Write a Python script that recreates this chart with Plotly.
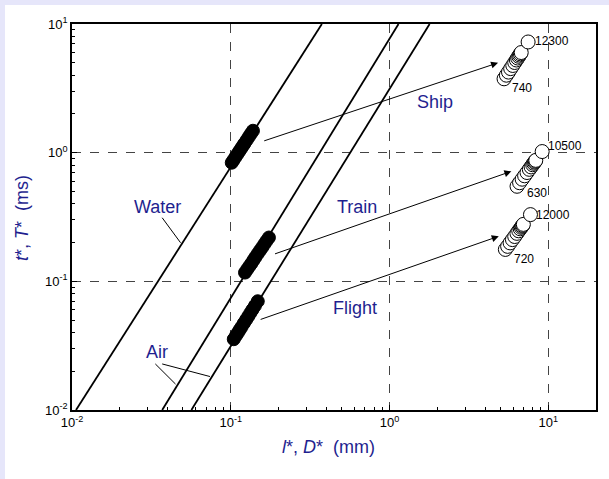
import numpy as np
import plotly.graph_objects as go

# ---------------- data ----------------
# Scaling lines (x = l*, D* in mm ; y = t*, T* in ms)
water_line_x = [0.0106, 0.375]
water_line_y = [0.01, 10.0]
air1_line_x = [0.037, 1.14]
air1_line_y = [0.01, 10.0]
air2_line_x = [0.0565, 1.79]
air2_line_y = [0.01, 10.0]

# Black (filled) clusters on the lines
water_blob_x = [0.1015, 0.104, 0.107, 0.110, 0.113, 0.116, 0.119, 0.122, 0.126, 0.130, 0.134, 0.138]
water_blob_y = [0.836, 0.875, 0.923, 0.972, 1.022, 1.073, 1.126, 1.179, 1.252, 1.328, 1.405, 1.48]
train_blob_x = [0.123, 0.127, 0.131, 0.135, 0.139, 0.143, 0.148, 0.153, 0.158, 0.163, 0.168, 0.174]
train_blob_y = [0.117, 0.124, 0.131, 0.138, 0.146, 0.154, 0.164, 0.174, 0.184, 0.195, 0.206, 0.219]
flight_blob_x = [0.1045, 0.108, 0.111, 0.114, 0.117, 0.121, 0.125, 0.129, 0.133, 0.137, 0.142, 0.148]
flight_blob_y = [0.0355, 0.0379, 0.0399, 0.0421, 0.0442, 0.0473, 0.0503, 0.0535, 0.0568, 0.0602, 0.0645, 0.070]

# Open-circle clusters (Ship / Train / Flight)
ship_x = [5.27, 5.45, 5.62, 5.80, 5.98, 6.15, 6.30, 6.42, 6.52, 6.60, 6.68, 6.76, 7.47]
ship_y = [3.75, 4.00, 4.23, 4.50, 4.76, 5.02, 5.25, 5.44, 5.61, 5.74, 5.87, 6.00, 7.25]
train_x = [6.36, 6.60, 6.85, 7.10, 7.35, 7.60, 7.80, 7.98, 8.10, 8.20, 8.28, 8.35, 9.16]
train_y = [0.548, 0.584, 0.622, 0.661, 0.701, 0.742, 0.775, 0.806, 0.827, 0.844, 0.858, 0.871, 1.02]
flight_x = [5.37, 5.55, 5.75, 5.95, 6.15, 6.35, 6.52, 6.66, 6.76, 6.84, 6.91, 6.97, 7.73]
flight_y = [0.177, 0.187, 0.199, 0.211, 0.223, 0.236, 0.247, 0.256, 0.263, 0.268, 0.272, 0.277, 0.330]

# Range labels of the clusters: (text, x, y)
range_labels = [("12300", 8.03, 7.43), ("740", 5.73, 3.17),
                ("10500", 9.62, 1.13), ("630", 7.12, 0.487),
                ("12000", 8.16, 0.330), ("720", 5.94, 0.148)]

# Arrows: (tail x, tail y, head x, head y)
arrows = [(0.159, 1.225, 4.83, 4.99),
          (0.186, 0.162, 5.86, 0.716),
          (0.151, 0.0501, 4.88, 0.224)]

# Named labels: (text, x, y)
names = [("Ship", 1.93, 2.48), ("Water", 0.0345, 0.375), ("Train", 0.626, 0.381),
         ("Flight", 0.61, 0.0618), ("Air", 0.0343, 0.028)]

# Leader lines: ((x0, y0), (x1, y1))
leaders = [((0.037, 0.312), (0.0483, 0.1995)),
           ((0.0335, 0.0228), (0.0449, 0.0159)),
           ((0.037, 0.0228), (0.074, 0.0182))]

x_tickvals = [0.01, 0.1, 1, 10]
x_ticktext = ["10<sup>-2</sup>", "10<sup>-1</sup>", "10<sup>0</sup>", "10<sup>1</sup>"]
y_tickvals = [0.01, 0.1, 1, 10]
y_ticktext = ["10<sup>-2</sup>", "10<sup>-1</sup>", "10<sup>0</sup>", "10<sup>1</sup>"]

# ---------------- figure ----------------
NAVY = "#1f1f8f"
FONT = "Liberation Sans, Arial, sans-serif"

fig = go.Figure()

for lx, ly in [(water_line_x, water_line_y), (air1_line_x, air1_line_y), (air2_line_x, air2_line_y)]:
    fig.add_trace(go.Scatter(x=lx, y=ly, mode="lines",
                             line=dict(color="black", width=1.8), hoverinfo="skip"))

for (p0, p1) in leaders:
    fig.add_trace(go.Scatter(x=[p0[0], p1[0]], y=[p0[1], p1[1]], mode="lines",
                             line=dict(color="black", width=1), hoverinfo="skip"))

for bx, by in [(water_blob_x, water_blob_y), (train_blob_x, train_blob_y), (flight_blob_x, flight_blob_y)]:
    fig.add_trace(go.Scatter(x=bx, y=by, mode="markers",
                             marker=dict(symbol="circle", size=13, color="black",
                                         line=dict(color="black", width=1))))

for cx, cy in [(ship_x, ship_y), (train_x, train_y), (flight_x, flight_y)]:
    fig.add_trace(go.Scatter(x=cx, y=cy, mode="markers",
                             marker=dict(symbol="circle", size=14, color="white",
                                         line=dict(color="black", width=1))))

annotations = []
for (tx, ty, hx, hy) in arrows:
    annotations.append(dict(x=np.log10(hx), y=np.log10(hy), ax=np.log10(tx), ay=np.log10(ty),
                            xref="x", yref="y", axref="x", ayref="y", text="",
                            showarrow=True, arrowhead=2, arrowsize=1.4, arrowwidth=1,
                            arrowcolor="black", standoff=0, startstandoff=0))
for (t, x, y) in range_labels:
    annotations.append(dict(x=np.log10(x), y=np.log10(y), xref="x", yref="y", text=t,
                            showarrow=False, xanchor="left", yanchor="middle",
                            font=dict(family=FONT, size=12, color="black")))
for (t, x, y) in names:
    annotations.append(dict(x=np.log10(x), y=np.log10(y), xref="x", yref="y", text=t,
                            showarrow=False, xanchor="center", yanchor="middle",
                            font=dict(family=FONT, size=18, color=NAVY)))

annotations.append(dict(x=(328 - 72) / 524, y=(410 - 447) / 386, xref="paper", yref="paper",
                        text="<i>l</i>*, <i>D</i>*  (mm)",
                        showarrow=False, xanchor="center", yanchor="middle",
                        font=dict(family=FONT, size=18, color=NAVY)))
annotations.append(dict(x=(22 - 72) / 524, y=(410 - 218) / 386, xref="paper", yref="paper",
                        text="<i>t</i>*, <i>T</i>*  (ms)", textangle=-90,
                        showarrow=False, xanchor="center", yanchor="middle",
                        font=dict(family=FONT, size=18, color=NAVY)))

minor_x = [m * 10.0 ** e for e in (-2, -1, 0, 1) for m in range(2, 10) if m * 10.0 ** e < 20]
minor_y = [m * 10.0 ** e for e in (-2, -1, 0) for m in range(2, 10)]

axis_common = dict(type="log", showline=True, linecolor="black", linewidth=1.5, mirror=True,
                   ticks="inside", ticklen=5, tickcolor="black", tickwidth=1,
                   showgrid=True, gridcolor="#444444", griddash="dash", gridwidth=1,
                   zeroline=False, tickfont=dict(family=FONT, size=13, color="black"))

fig.update_layout(
    width=609, height=479,
    margin=dict(l=72, r=13, t=24, b=69),
    paper_bgcolor="#e6e6fa", plot_bgcolor="white",
    showlegend=False,
    annotations=annotations,
    shapes=[dict(type="rect", xref="paper", yref="paper", layer="below",
                 x0=(5 - 72) / 524, x1=1.2, y0=-0.4, y1=(410 - 5) / 386,
                 fillcolor="white", line=dict(width=0))],
    xaxis=dict(range=[-2, np.log10(20)], tickmode="array", tickvals=x_tickvals, ticktext=x_ticktext,
               minor=dict(tickmode="array", tickvals=minor_x, ticks="inside", ticklen=3,
                          tickcolor="black", showgrid=False),
               **axis_common),
    yaxis=dict(range=[-2, 1], tickmode="array", tickvals=y_tickvals, ticktext=y_ticktext,
               minor=dict(tickmode="array", tickvals=minor_y, ticks="inside", ticklen=3,
                          tickcolor="black", showgrid=False),
               **axis_common),
)

fig.write_html("out.html", config={"displayModeBar": False},
               post_script="document.body.style.margin='0';document.body.style.overflow='hidden';")
